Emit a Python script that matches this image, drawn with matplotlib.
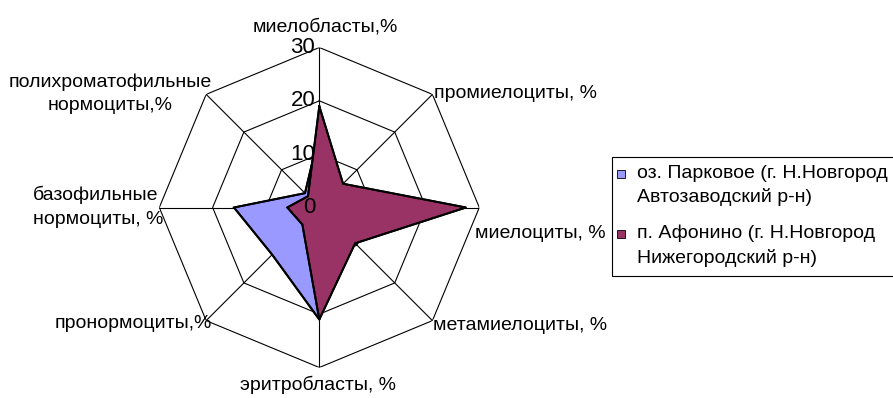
import numpy as np
from matplotlib import pyplot as plt
from matplotlib.patches import Rectangle
from matplotlib.transforms import offset_copy

categories = ["миелобласты,%", "промиелоциты, %", "миелоциты, %", "метамиелоциты, %",
              "эритробласты, %", "пронормоциты,%", "базофильные\nнормоциты, %",
              "полихроматофильные\nнормоциты,%"]
parkovoe = [14, 3, 2, 2, 21, 12.5, 16, 3.8]
afonino = [19, 6.3, 27.5, 9.5, 21, 4.5, 6, 3]
series_names = ["оз. Парковое (г. Н.Новгород\nАвтозаводский р-н)",
                "п. Афонино (г. Н.Новгород\nНижегородский р-н)"]
series_colors = ["#9999FF", "#993366"]
ring_values = [0, 10, 20, 30]

plt.rcParams['font.family'] = ['Liberation Sans', 'DejaVu Sans']

W, H = 893, 398
fig = plt.figure(figsize=(W / 100, H / 100), dpi=100)
cx, cy, rad = 319.3, 207.5, 160
ax = fig.add_axes([(cx - rad) / W, 1 - (cy + rad) / H, 2 * rad / W, 2 * rad / H],
                  projection="polar")
ax.set_theta_zero_location("N")
ax.set_theta_direction(-1)
ax.set_ylim(0, 30)
ax.grid(False)
ax.set_xticks([])
ax.set_yticks([])
ax.spines["polar"].set_visible(False)
ax.patch.set_visible(False)

n = len(categories)
angles = np.arange(n) * 2 * np.pi / n
closed = np.append(angles, angles[0])

# octagonal grid and spokes
for r in ring_values[1:]:
    ax.plot(closed, [r] * (n + 1), color="black", lw=0.8, zorder=1)
for a in angles:
    ax.plot([a, a], [0, 30], color="black", lw=0.8, zorder=1)

for vals, col, z in zip([parkovoe, afonino], series_colors, [2, 3]):
    v = np.append(vals, vals[0])
    ax.fill(closed, v, facecolor=col, edgecolor="black", lw=1.4, zorder=z)
    ax.plot(closed, v, color="black", lw=1.4, zorder=z + 0.5)

tick_tr = offset_copy(ax.transData, fig=fig, x=-4, y=0, units="dots")
for r in ring_values:
    ax.text(0, r, str(r), transform=tick_tr, fontsize=16, ha="right", va="center", zorder=6)


def ftext(x, y, s, **kw):
    fig.text(x / W, 1 - y / H, s, fontsize=14, **kw)


ftext(325, 27, categories[0], ha="center", va="center")
ftext(434, 93, categories[1], ha="left", va="center")
ftext(475, 234, categories[2], ha="left", va="center")
ftext(433, 326, categories[3], ha="left", va="center")
ftext(318, 385, categories[4], ha="center", va="center")
ftext(212, 324, categories[5], ha="right", va="center")
ftext(33, 207, categories[6], ha="left", va="center", linespacing=1.5)
ftext(110, 94, categories[7], ha="center", va="center", linespacing=1.5)

# legend box (runs off the right edge as in the source)
fig.patches.append(Rectangle((612 / W, 1 - 276 / H), 300 / W, 119 / H, transform=fig.transFigure,
                             facecolor="white", edgecolor="black", lw=0.8, figure=fig))
for i, (name, col) in enumerate(zip(series_names, series_colors)):
    y0 = 174 + i * 60
    fig.patches.append(Rectangle((617 / W, 1 - (y0 + 4) / H), 8 / W, 8 / H,
                                 transform=fig.transFigure, facecolor=col,
                                 edgecolor="black", lw=0.6, figure=fig))
    fig.text(637 / W, 1 - (y0 - 9) / H, name, fontsize=14, ha="left", va="top",
             linespacing=1.45)

fig.savefig("out.png", dpi=100)
